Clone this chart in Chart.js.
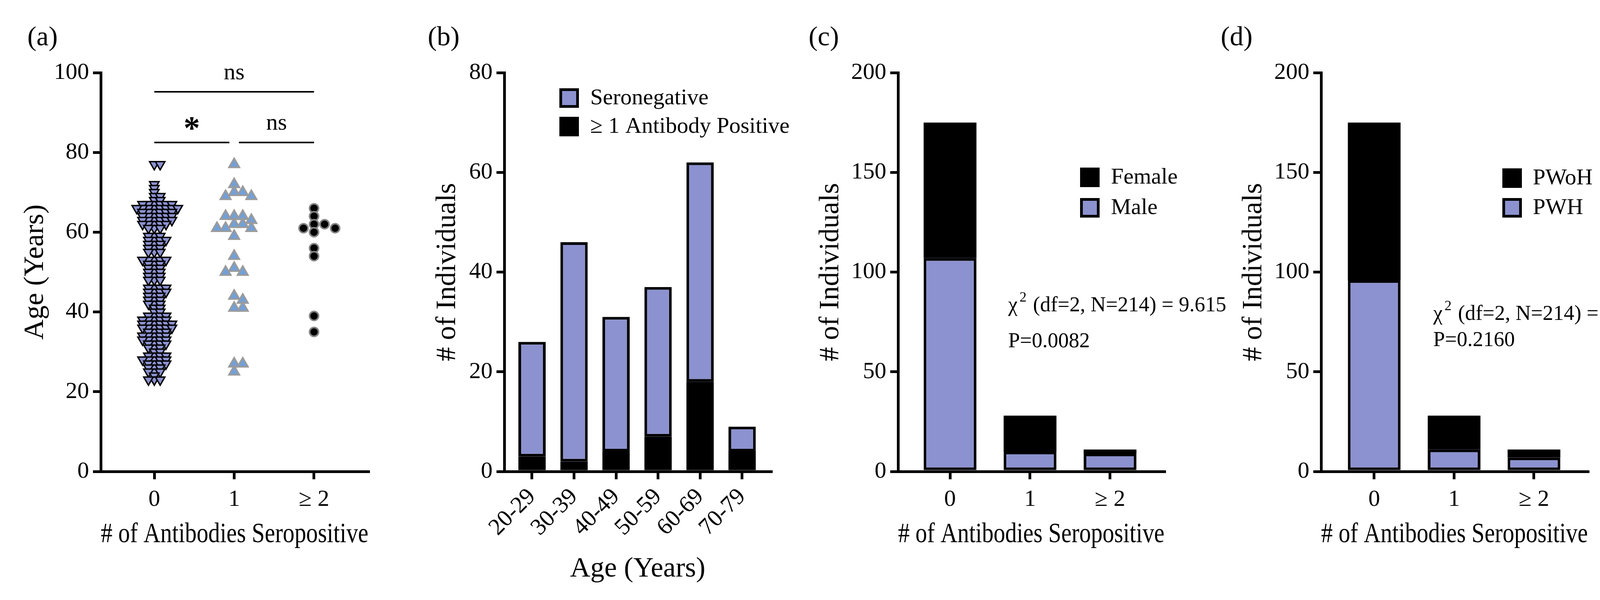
<!DOCTYPE html>
<html>
<head>
<meta charset="utf-8">
<script src="https://cdn.jsdelivr.net/npm/chart.js@4.4.0/dist/chart.umd.min.js"></script>
<style>
  html, body { margin: 0; padding: 0; background: #fff; }
  body { width: 4246px; height: 1536px; position: relative; overflow: hidden; }
  canvas { position: absolute; top: 0; left: 0; }
</style>
</head>
<body>
<canvas id="pa" width="4246" height="1536"></canvas>
<canvas id="pb" width="4246" height="1536"></canvas>
<canvas id="pc" width="4246" height="1536"></canvas>
<canvas id="pd" width="4246" height="1536"></canvas>
<script>
// ---- data ----
const antibodyGroups = ['0', '1', '≥ 2'];

// (a) age of each individual, by number of seropositive antibodies
const agesZero = [
  77, 77, 72, 71, 70,
  69, 69, 68, 68, 67, 67, 67, 67, 67, 67, 66, 66, 66, 66, 66, 66, 66, 66,
  65, 65, 65, 65, 65, 65, 64, 64, 64, 64, 64, 64, 63, 63, 63, 63, 63, 63,
  62, 62, 62, 62, 62, 61, 61, 61,
  59, 59, 59, 58, 58, 58, 58, 57, 57, 57, 56, 56, 56, 55, 55, 55,
  53, 53, 53, 53, 53, 52, 52, 52, 51, 51, 51, 50, 50, 50,
  49, 49, 49, 48, 48, 48, 46, 46, 46, 46, 45, 45, 45, 45, 44, 44, 44,
  43, 43, 43, 42, 42, 42, 41, 41, 40, 40,
  39, 39, 39, 39, 38, 38, 38, 38, 38, 37, 37, 37, 37, 37, 37,
  36, 36, 36, 36, 36, 36, 35, 35, 35, 35, 34, 34, 34, 34, 34,
  33, 33, 33, 33, 33, 32, 32, 32, 32, 31, 31, 31, 30, 30,
  29, 29, 29, 29, 28, 28, 28, 28, 28, 27, 27, 27, 27, 26, 26, 26,
  25, 25, 25, 24, 23, 23, 23
];
const agesOne = [77, 72, 70, 70, 69, 69, 64, 64, 64, 63, 62, 62, 61, 61, 61,
  59, 54, 51, 50, 50, 44, 43, 41, 41, 27, 27, 25];
const agesTwoPlus = [66, 64, 62, 62, 61, 61, 60, 56, 54, 39, 35];

// (b) counts per age bin
const ageBins = ['20-29', '30-39', '40-49', '50-59', '60-69', '70-79'];
const binPositive = [3, 2, 4, 7, 18, 4];
const binSeronegative = [23, 44, 27, 30, 44, 5];

// (c) sex by antibody group
const sexMale = [107, 10, 9];
const sexFemale = [68, 18, 2];

// (d) HIV status by antibody group
const hivPWH = [96, 11, 7];
const hivPWoH = [79, 17, 4];

// (a) significance brackets: from, to, height in years, label
const bracketFrom = [0, 0, 1.06];
const bracketTo = [2, 0.94, 2];
const bracketY = [95.2, 82.5, 82.5];
const bracketLabel = ['ns', '*', 'ns'];

const chiC = { stat: '9.615', p: '0.0082' };
const chiD = { stat: '3.065', p: '0.2160' };

// ---- styling ----
const BLUE = '#8c92cf';
const SERIF = "'Liberation Serif', 'Times New Roman', serif";
const PX_PER_GROUP = 204.5;
const PX_PER_YEAR = 10.21;
const TICK_SIZE = 60, TITLE_SIZE = 72, LEGEND_SIZE = 58, NOTE_SIZE = 54;

Chart.defaults.font.family = SERIF;
Chart.defaults.color = '#000';
Chart.defaults.animation = false;
Chart.defaults.events = [];
Chart.defaults.plugins.legend.display = false;
Chart.defaults.plugins.tooltip.enabled = false;

// beeswarm spread: each point takes the nearest free slot beside the column centre
function swarm(values, center, gap, rowPx) {
  const placed = [];
  const sorted = values.slice().sort((a, b) => b - a);
  return sorted.map(v => {
    const py = v * PX_PER_YEAR;
    let dx = 0;
    for (let k = 0; k < 80; k++) {
      dx = Math.ceil(k / 2) * (k % 2 ? 1 : -1) * gap / 2;
      const free = placed.every(p => Math.abs(p.dx - dx) >= gap - 0.01 || Math.abs(p.py - py) >= rowPx);
      if (free) break;
    }
    placed.push({ dx, py });
    return { x: center + dx / PX_PER_GROUP, y: v };
  });
}

const gridOpts = {
  drawOnChartArea: false, drawTicks: true, tickLength: 20, offset: false,
  tickWidth: 7, lineWidth: 7, tickColor: '#000', color: '#000'
};
const borderOpts = { display: true, color: '#000', width: 7 };

function yAxis(max, step, title, width, stacked) {
  return {
    min: 0, max: max, stacked: stacked,
    ticks: { stepSize: step, font: { size: TICK_SIZE }, padding: 10, color: '#000' },
    grid: gridOpts,
    border: borderOpts,
    title: { display: true, text: title, font: { size: TITLE_SIZE }, padding: 0, color: '#000' },
    afterFit: s => { s.width = width; }
  };
}

function xAxis(labels, min, max, title, height, rotate, stacked) {
  return {
    type: 'linear', min: min, max: max, stacked: stacked, offset: false,
    afterBuildTicks: s => { s.ticks = labels.map((l, i) => ({ value: i })); },
    ticks: {
      callback: v => labels[v], autoSkip: false, font: { size: TICK_SIZE }, color: '#000',
      padding: rotate ? 10 : 16, minRotation: rotate ? 45 : 0, maxRotation: rotate ? 45 : 0
    },
    grid: gridOpts,
    border: borderOpts,
    title: { display: true, text: title, font: { size: TITLE_SIZE }, padding: 0, color: '#000' },
    afterFit: s => { s.height = height; }
  };
}

// panel letters, legends and test statistics
const notes = {
  pa: { letter: '(a)', letterX: 70 },
  pb: { letter: '(b)', letterX: 1095, legend: { order: [1, 0], x: 1432, y: 226, step: 73, textX: 1511 } },
  pc: { letter: '(c)', letterX: 2070, legend: { order: [1, 0], x: 2765, y: 429, step: 78, textX: 2844 },
        chi: chiC, chiX: 2581, chiY: 783, pY: 875 },
  pd: { letter: '(d)', letterX: 3125, legend: { order: [1, 0], x: 3846, y: 431, step: 76, textX: 3924 },
        chi: chiD, chiX: 3669, chiY: 805, pY: 872 }
};

const notePlugin = {
  id: 'notes',
  afterDraw(chart) {
    const n = notes[chart.canvas.id];
    if (!n) return;
    const ctx = chart.ctx;
    ctx.save();
    ctx.fillStyle = '#000';
    ctx.textBaseline = 'middle';
    ctx.textAlign = 'left';
    ctx.font = '70px ' + SERIF;
    ctx.fillText(n.letter, n.letterX, 98);

    if (n.legend) {
      n.legend.order.forEach((di, k) => {
        const ds = chart.data.datasets[di];
        const y = n.legend.y + k * n.legend.step;
        ctx.fillStyle = '#000';
        ctx.fillRect(n.legend.x, y, 50, 50);
        if (ds.backgroundColor !== '#000') {
          ctx.fillStyle = ds.backgroundColor;
          ctx.fillRect(n.legend.x + 7, y + 7, 36, 36);
        }
        ctx.fillStyle = '#000';
        ctx.font = LEGEND_SIZE + 'px ' + SERIF;
        ctx.fillText(ds.label, n.legend.textX, y + 26);
      });
    }

    if (n.chi) {
      ctx.font = NOTE_SIZE + 'px ' + SERIF;
      ctx.fillText('χ', n.chiX, n.chiY);
      const w1 = ctx.measureText('χ').width;
      ctx.font = '36px ' + SERIF;
      ctx.fillText('2', n.chiX + w1 + 5, n.chiY - 20);
      const w2 = ctx.measureText('2').width;
      ctx.font = NOTE_SIZE + 'px ' + SERIF;
      ctx.fillText(' (df=2, N=214) = ' + n.chi.stat, n.chiX + w1 + w2 + 8, n.chiY);
      ctx.fillText('P=' + n.chi.p, n.chiX, n.pY);
    }

    if (chart.canvas.id === 'pa') {
      const xs = chart.scales.x, ys = chart.scales.y;
      bracketLabel.forEach((lab, i) => {
        const cx = xs.getPixelForValue((bracketFrom[i] + bracketTo[i]) / 2);
        const cy = ys.getPixelForValue(bracketY[i]);
        ctx.textAlign = 'center';
        if (lab === '*') {
          ctx.font = 'bold 84px ' + SERIF;
          ctx.fillText(lab, cx, cy - 30);
        } else {
          ctx.font = TICK_SIZE + 'px ' + SERIF;
          ctx.fillText(lab, cx, cy - 48);
        }
      });
    }
    ctx.restore();
  }
};
Chart.register(notePlugin);

// ---- (a) scatter ----
const bracketSets = bracketLabel.map((lab, i) => ({
  type: 'line',
  data: [{ x: bracketFrom[i], y: bracketY[i] }, { x: bracketTo[i], y: bracketY[i] }],
  borderColor: '#000', borderWidth: 4, pointRadius: 0, showLine: true
}));

new Chart(document.getElementById('pa'), {
  type: 'scatter',
  data: {
    datasets: [
      {
        label: '0', data: swarm(agesZero, 0, 15, 9),
        pointStyle: 'triangle', pointRotation: 180, pointRadius: 14,
        pointBackgroundColor: BLUE, pointBorderColor: '#000', pointBorderWidth: 3.5
      },
      {
        label: '1', data: swarm(agesOne, 1, 22, 18),
        pointStyle: 'triangle', pointRadius: 15.5,
        pointBackgroundColor: '#72a0d8', pointBorderColor: '#9b9b9b', pointBorderWidth: 4
      },
      {
        label: '≥ 2', data: swarm(agesTwoPlus, 2, 27, 18),
        pointStyle: 'circle', pointRadius: 11.5,
        pointBackgroundColor: '#000', pointBorderColor: '#858585', pointBorderWidth: 4
      },
      ...bracketSets
    ]
  },
  options: {
    responsive: false,
    devicePixelRatio: 1,
    layout: { padding: { top: 186, left: 48, right: 3303, bottom: 124 } },
    scales: {
      x: xAxis(antibodyGroups, -0.67, 2.68, '# of Antibodies Seropositive', 205, false, false),
      y: yAxis(100, 20, 'Age (Years)', 210, false)
    }
  }
});

// ---- (b) stacked bars by age ----
new Chart(document.getElementById('pb'), {
  type: 'bar',
  data: {
    datasets: [
      {
        label: '≥ 1 Antibody Positive', data: binPositive.map((v, i) => ({ x: i, y: v })),
        backgroundColor: '#000', borderWidth: 0
      },
      {
        label: 'Seronegative', data: binSeronegative.map((v, i) => ({ x: i, y: v })),
        backgroundColor: BLUE, borderColor: '#000', borderWidth: 7, borderSkipped: false
      }
    ]
  },
  options: {
    responsive: false,
    devicePixelRatio: 1,
    categoryPercentage: 1, barPercentage: 0.65,
    layout: { padding: { top: 186, left: 1103, right: 2272, bottom: 36 } },
    scales: {
      x: xAxis(ageBins, -0.66, 5.69, 'Age (Years)', 293, true, true),
      y: yAxis(80, 20, '# of Individuals', 188, true)
    }
  }
});

// ---- (c) and (d) stacked bars by antibody group ----
function groupBars(id, lowLabel, lowData, highLabel, highData, pad, min, max) {
  new Chart(document.getElementById(id), {
    type: 'bar',
    data: {
      datasets: [
        {
          label: lowLabel, data: lowData.map((v, i) => ({ x: i, y: v })),
          backgroundColor: BLUE, borderColor: '#000', borderWidth: 7, borderSkipped: false
        },
        {
          label: highLabel, data: highData.map((v, i) => ({ x: i, y: v })),
          backgroundColor: '#000', borderWidth: 0
        }
      ]
    },
    options: {
      responsive: false,
      devicePixelRatio: 1,
      categoryPercentage: 1, barPercentage: 0.66,
      layout: { padding: pad },
      scales: {
        x: xAxis(antibodyGroups, min, max, '# of Antibodies Seropositive', 205, false, true),
        y: yAxis(200, 50, '# of Individuals', 215, true)
      }
    }
  });
}

groupBars('pc', 'Male', sexMale, 'Female', sexFemale,
  { top: 186, left: 2084, right: 1265, bottom: 124 }, -0.65, 2.68);
groupBars('pd', 'PWH', hivPWH, 'PWoH', hivPWoH,
  { top: 186, left: 3167, right: 181, bottom: 124 }, -0.665, 2.675);
</script>
</body>
</html>
